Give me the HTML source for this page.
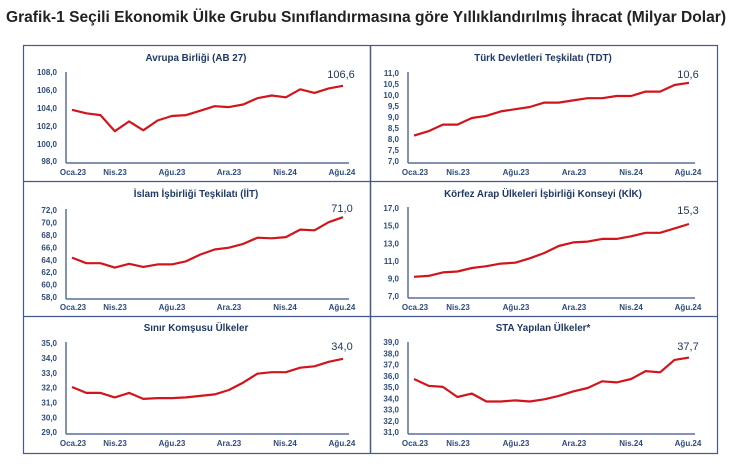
<!DOCTYPE html>
<html><head><meta charset="utf-8"><style>
body{margin:0;background:#fff;width:750px;height:464px;overflow:hidden}
svg{display:block}
text{font-family:"Liberation Sans",sans-serif;font-weight:bold;fill:#2f4b7c}
.t{font-size:9.8px;fill:#1f3864}
.k{font-size:8px;text-anchor:end;dominant-baseline:middle}
.x{font-size:8px;text-anchor:middle}
.v{font-size:11px;fill:#1f3864;font-weight:normal;text-anchor:middle}
.h{font-size:15.5px;fill:#222}
</style></head><body>
<svg id="s" width="750" height="464" viewBox="0 0 750 464">
<text class="h" x="6" y="22" textLength="720" lengthAdjust="spacingAndGlyphs">Grafik-1 Seçili Ekonomik Ülke Grubu Sınıflandırmasına göre Yıllıklandırılmış İhracat (Milyar Dolar)</text>
<rect x="23.5" y="45.5" width="694" height="408" fill="none" stroke="#41598b" stroke-width="1.2"/>
<line x1="370.5" y1="45" x2="370.5" y2="454" stroke="#41598b" stroke-width="1.5"/>
<line x1="23" y1="181.5" x2="718" y2="181.5" stroke="#41598b" stroke-width="1.2"/>
<line x1="23" y1="316.5" x2="718" y2="316.5" stroke="#41598b" stroke-width="1.2"/>
<g stroke="#5a6f99" stroke-width="1.5">
<line x1="66" y1="72" x2="66" y2="163"/><line x1="66" y1="163" x2="349" y2="163"/>
<line x1="408" y1="72" x2="408" y2="163"/><line x1="408" y1="163" x2="695" y2="163"/>
<line x1="66" y1="209" x2="66" y2="299"/><line x1="66" y1="299" x2="349" y2="299"/>
<line x1="408" y1="207" x2="408" y2="298"/><line x1="408" y1="298" x2="695" y2="298"/>
<line x1="66" y1="342" x2="66" y2="434"/><line x1="66" y1="434" x2="349" y2="434"/>
<line x1="408" y1="342" x2="408" y2="434"/><line x1="408" y1="434" x2="695" y2="434"/>
</g>
<text class="t" x="196" y="61" text-anchor="middle">Avrupa Birliği (AB 27)</text>
<text class="t" x="543" y="61" text-anchor="middle">Türk Devletleri Teşkilatı (TDT)</text>
<text class="t" x="196" y="197" text-anchor="middle">İslam İşbirliği Teşkilatı (İİT)</text>
<text class="t" x="543" y="197" text-anchor="middle">Körfez Arap Ülkeleri İşbirliği Konseyi (KİK)</text>
<text class="t" x="196" y="331" text-anchor="middle">Sınır Komşusu Ülkeler</text>
<text class="t" x="543" y="331" text-anchor="middle">STA Yapılan Ülkeler*</text>
<g>
<text class="k" x="57" y="73">108,0</text><text class="k" x="57" y="91">106,0</text><text class="k" x="57" y="109">104,0</text><text class="k" x="57" y="127">102,0</text><text class="k" x="57" y="145">100,0</text><text class="k" x="57" y="162">98,0</text>
<text class="k" x="399" y="74">11,0</text><text class="k" x="399" y="85">10,5</text><text class="k" x="399" y="96">10,0</text><text class="k" x="399" y="107">9,5</text><text class="k" x="399" y="118">9,0</text><text class="k" x="399" y="129">8,5</text><text class="k" x="399" y="140">8,0</text><text class="k" x="399" y="151">7,5</text><text class="k" x="399" y="162">7,0</text>
<text class="k" x="57" y="211">72,0</text><text class="k" x="57" y="223.4">70,0</text><text class="k" x="57" y="235.9">68,0</text><text class="k" x="57" y="248.3">66,0</text><text class="k" x="57" y="260.7">64,0</text><text class="k" x="57" y="273.1">62,0</text><text class="k" x="57" y="285.6">60,0</text><text class="k" x="57" y="298">58,0</text>
<text class="k" x="399" y="209">17,0</text><text class="k" x="399" y="226.6">15,0</text><text class="k" x="399" y="244.2">13,0</text><text class="k" x="399" y="261.8">11,0</text><text class="k" x="399" y="279.4">9,0</text><text class="k" x="399" y="297">7,0</text>
<text class="k" x="57" y="344">35,0</text><text class="k" x="57" y="358.8">34,0</text><text class="k" x="57" y="373.7">33,0</text><text class="k" x="57" y="388.5">32,0</text><text class="k" x="57" y="403.3">31,0</text><text class="k" x="57" y="418.2">30,0</text><text class="k" x="57" y="433">29,0</text>
<text class="k" x="399" y="343">39,0</text><text class="k" x="399" y="354.3">38,0</text><text class="k" x="399" y="365.5">37,0</text><text class="k" x="399" y="376.8">36,0</text><text class="k" x="399" y="388">35,0</text><text class="k" x="399" y="399.3">34,0</text><text class="k" x="399" y="410.5">33,0</text><text class="k" x="399" y="421.8">32,0</text><text class="k" x="399" y="433">31,0</text>
</g>
<text class="x" x="73" y="175">Oca.23</text><text class="x" x="115" y="175">Nis.23</text><text class="x" x="172" y="175">Ağu.23</text><text class="x" x="229" y="175">Ara.23</text><text class="x" x="285" y="175">Nis.24</text><text class="x" x="342" y="175">Ağu.24</text>
<text class="x" x="415" y="175">Oca.23</text><text class="x" x="458" y="175">Nis.23</text><text class="x" x="516" y="175">Ağu.23</text><text class="x" x="574" y="175">Ara.23</text><text class="x" x="631" y="175">Nis.24</text><text class="x" x="688" y="175">Ağu.24</text>
<text class="x" x="73" y="310">Oca.23</text><text class="x" x="115" y="310">Nis.23</text><text class="x" x="172" y="310">Ağu.23</text><text class="x" x="229" y="310">Ara.23</text><text class="x" x="285" y="310">Nis.24</text><text class="x" x="342" y="310">Ağu.24</text>
<text class="x" x="415" y="310">Oca.23</text><text class="x" x="458" y="310">Nis.23</text><text class="x" x="516" y="310">Ağu.23</text><text class="x" x="574" y="310">Ara.23</text><text class="x" x="631" y="310">Nis.24</text><text class="x" x="688" y="310">Ağu.24</text>
<text class="x" x="73" y="446">Oca.23</text><text class="x" x="115" y="446">Nis.23</text><text class="x" x="172" y="446">Ağu.23</text><text class="x" x="229" y="446">Ara.23</text><text class="x" x="285" y="446">Nis.24</text><text class="x" x="342" y="446">Ağu.24</text>
<text class="x" x="415" y="446">Oca.23</text><text class="x" x="458" y="446">Nis.23</text><text class="x" x="516" y="446">Ağu.23</text><text class="x" x="574" y="446">Ara.23</text><text class="x" x="631" y="446">Nis.24</text><text class="x" x="688" y="446">Ağu.24</text>
<text class="v" x="341" y="78">106,6</text>
<text class="v" x="688" y="78">10,6</text>
<text class="v" x="342" y="212">71,0</text>
<text class="v" x="688" y="214">15,3</text>
<text class="v" x="342" y="350">34,0</text>
<text class="v" x="688" y="350">37,7</text>
</svg>
<script>
var P=[
[72,343,108,73.3,98,162.3,[103.9,103.5,103.3,101.5,102.6,101.6,102.7,103.2,103.3,103.8,104.3,104.2,104.5,105.2,105.5,105.3,106.2,105.8,106.3,106.6]],
[414,689,11,74,7,162,[8.2,8.4,8.7,8.7,9.0,9.1,9.3,9.4,9.5,9.7,9.7,9.8,9.9,9.9,10.0,10.0,10.2,10.2,10.5,10.6]],
[72,343,72,211,58,298,[64.5,63.6,63.6,62.9,63.5,63.0,63.4,63.4,63.9,65.0,65.8,66.1,66.7,67.7,67.6,67.8,69.0,68.9,70.2,71.0]],
[414,689,17,209,7,297,[9.3,9.4,9.8,9.9,10.3,10.5,10.8,10.9,11.4,12.0,12.8,13.2,13.3,13.6,13.6,13.9,14.3,14.3,14.8,15.3]],
[72,343,35,344,29,433,[32.1,31.7,31.7,31.4,31.7,31.3,31.35,31.35,31.4,31.5,31.6,31.9,32.4,33.0,33.1,33.1,33.4,33.5,33.8,34.0]],
[414,689,39,343,31,433,[35.8,35.2,35.1,34.2,34.5,33.8,33.8,33.9,33.8,34.0,34.3,34.7,35.0,35.6,35.5,35.8,36.5,36.4,37.5,37.7]]];
var s=document.getElementById('s');
P.forEach(function(p){var pts=p[6].map(function(v,i){var x=p[0]+(p[1]-p[0])*i/19;var y=p[3]+(p[2]-v)*(p[5]-p[3])/(p[2]-p[4]);return x.toFixed(1)+','+y.toFixed(1)}).join(' ');
var l=document.createElementNS('http://www.w3.org/2000/svg','polyline');l.setAttribute('points',pts);l.setAttribute('fill','none');l.setAttribute('stroke','#d0161c');l.setAttribute('stroke-width','2.2');l.setAttribute('stroke-linejoin','round');s.appendChild(l);});
</script>
</body></html>
